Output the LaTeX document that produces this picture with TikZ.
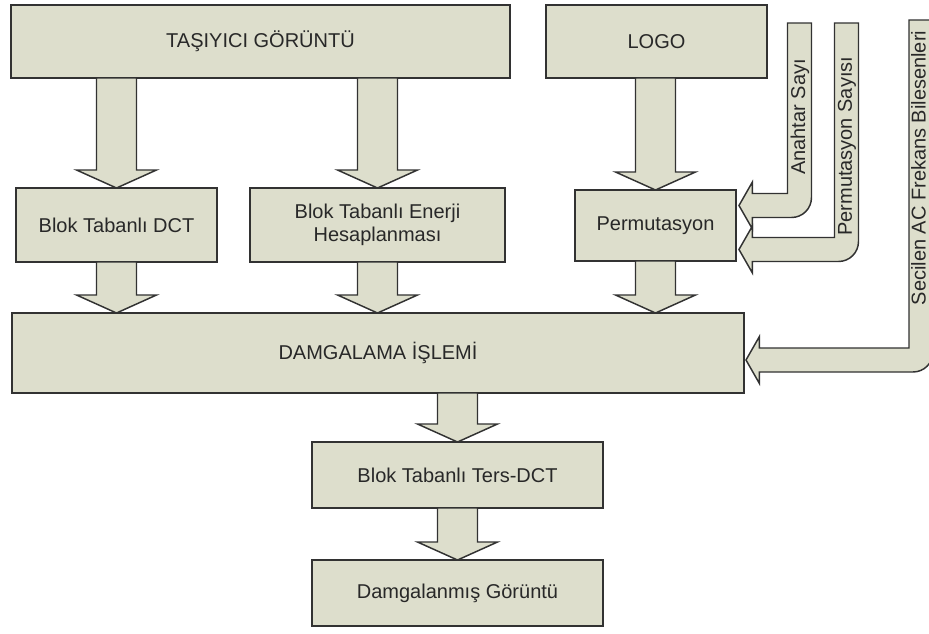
\documentclass[tikz,border=0pt]{standalone}
\usepackage{fontspec}
\setmainfont{Liberation Sans}
\usepackage{tikz}
\usetikzlibrary{calc}
\definecolor{kutudolgu}{RGB}{221,222,204}
\definecolor{cizgi}{RGB}{50,50,50}
\definecolor{yazi}{RGB}{40,40,40}
\tikzstyle{every node}=[font=\fontsize{15}{17}\selectfont,text=yazi]
\tikzstyle{kutu}=[draw=cizgi,fill=kutudolgu,line width=1.1pt,align=center,inner sep=0pt,outer sep=0pt]
\tikzstyle{ok}=[draw=cizgi,fill=kutudolgu,line width=1.1pt,line join=miter]

% duz blok ok: #1 baslangic, #2 uc
\newcommand{\blokok}[2]{%
  \draw[ok] let \p1=(#1), \p2=(#2) in
    (\x2-15pt,\y1) -- (\x2+15pt,\y1) -- (\x2+15pt,\y2+13.5pt) -- (\x2+30pt,\y2+13.5pt)
    -- (\x2,\y2) -- (\x2-30pt,\y2+13.5pt) -- (\x2-15pt,\y2+13.5pt) -- cycle;}
% donen blok ok: #1 ust orta, #2 uc
\newcommand{\donukok}[2]{%
  \draw[ok] let \p1=(#1), \p2=(#2) in
    (\x1-9pt,\y1) -- (\x1+9pt,\y1) -- (\x1+9pt,\y2+6pt)
    arc[start angle=0,end angle=-90,radius=15pt] -- (\x2+10pt,\y2-9pt)
    -- (\x2+10pt,\y2-17.5pt) -- (\x2,\y2) -- (\x2+10pt,\y2+17.5pt)
    -- (\x2+10pt,\y2+9pt) -- (\x1-9pt,\y2+9pt) -- cycle;}

\begin{document}
\begin{tikzpicture}[line cap=butt,line join=miter,x=0.75pt,y=-0.75pt]
  \clip (0,0) rectangle (929,633);
  \fill[white] (0,0) rectangle (929,633);
  % kutular
  \node[kutu,minimum width=374.25pt,minimum height=54.75pt] (tasiyici) at (260.5,41.5) {TAŞIYICI GÖRÜNTÜ};
  \node[kutu,minimum width=165.75pt,minimum height=54.75pt] (logo) at (656.5,41.5) {LOGO};
  \node[kutu,minimum width=150.75pt,minimum height=55.5pt] (dct) at (116.5,225) {Blok Tabanlı DCT};
  \node[kutu,minimum width=191.25pt,minimum height=55.5pt] (enerji) at (377.5,225) {Blok Tabanlı Enerji\\Hesaplanması};
  \node[kutu,minimum width=120.75pt,minimum height=53.25pt] (perm) at (655.5,225.5) {Permutasyon};
  \node[kutu,minimum width=549pt,minimum height=60pt] (damga) at (378,353) {DAMGALAMA İŞLEMİ};
  \node[kutu,minimum width=218.25pt,minimum height=49.5pt] (ters) at (457.5,475) {Blok Tabanlı Ters-DCT};
  \node[kutu,minimum width=218.25pt,minimum height=49.5pt] (sonuc) at (457.5,593) {Damgalanmış Görüntü};
  % oklar
  \blokok{tasiyici.south -| dct}{dct.north}
  \blokok{tasiyici.south -| enerji}{enerji.north}
  \blokok{logo.south -| perm}{perm.north}
  \blokok{dct.south}{damga.north -| dct}
  \blokok{enerji.south}{damga.north -| enerji}
  \blokok{perm.south}{damga.north -| perm}
  \blokok{damga.south -| ters}{ters.north}
  \blokok{ters.south}{sonuc.north}
  % yandan gelen girdiler
  \coordinate (anahtar) at (799.5,23);
  \coordinate (permsayi) at (846.5,23);
  \coordinate (acbilesen) at (921,20);
  \donukok{permsayi}{$(perm.east)+(3,24)$}
  \donukok{anahtar}{$(perm.east)+(3,-20)$}
  \donukok{acbilesen}{$(damga.east)+(2,7)$}
  \node[rotate=90,anchor=west,inner sep=0pt] (anahtaryazi) at (800,175) {Anahtar Sayı};
  \node[rotate=90,anchor=west,inner sep=0pt] (permyazi) at (847,236) {Permutasyon Sayısı};
  \node[rotate=90,inner sep=0pt] (acyazi) at (918.5,168) {Secilen AC Frekans Bilesenleri};
\end{tikzpicture}
\end{document}
